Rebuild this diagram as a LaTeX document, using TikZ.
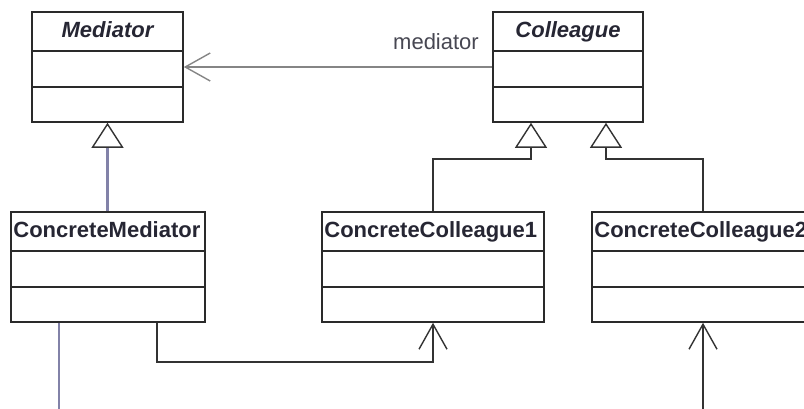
\documentclass[tikz,border=0pt]{standalone}
\usepackage{fontspec}
\setmainfont{Liberation Sans}
\usetikzlibrary{arrows.meta,calc}
\definecolor{boxc}{HTML}{2A2A2A}
\definecolor{txtc}{HTML}{262633}
\definecolor{assocc}{HTML}{858585}
\definecolor{bluec}{HTML}{8282A8}
\definecolor{darkc}{HTML}{333333}
\begin{document}
\begin{tikzpicture}[x=1pt,y=-1pt,
  classbox/.style={draw=boxc, line width=1.6pt, fill=white, minimum height=110pt, inner sep=0pt},
  divider/.style={draw=boxc, line width=1.6pt},
  abstitle/.style={font=\fontsize{22}{26}\selectfont\bfseries\itshape, text=txtc, inner sep=0pt, anchor=base},
  contitle/.style={font=\fontsize{22}{26}\selectfont\bfseries, text=txtc, inner sep=0pt, anchor=base west},
  rolelabel/.style={font=\fontsize{22}{26}\selectfont, text=txtc!85, inner sep=0pt, anchor=base east},
  gen/.style={draw=darkc, line width=1.6pt, -{Triangle[open, length=25pt, width=32pt, fill=white, color=darkc, line width=1.4pt]}},
  genblue/.style={gen, draw=bluec, line width=2.2pt},
  assoc/.style={draw=darkc, line width=1.6pt, -{Straight Barb[length=25pt, width=28pt, line width=1.4pt]}},
  assocgray/.style={assoc, draw=assocc, line width=2pt},
  plainblue/.style={draw=bluec, line width=2.4pt}
]
\useasboundingbox (0,0) rectangle (804,408);
\clip (0,0) rectangle (804,408);

% classes
\node[classbox, minimum width=151pt] (med) at (107.5,67) {};
\node[classbox, minimum width=150pt] (col) at (568,67) {};
\node[classbox, minimum width=194pt] (cmed) at (108,267) {};
\node[classbox, minimum width=222pt] (cc1) at (433,267) {};
\node[classbox, minimum width=222pt] (cc2) at (703,267) {};

% titles
\node[abstitle] (medt) at ($(med.north)+(0,26.5)$) {Mediator};
\node[abstitle] (colt) at ($(col.north)+(0,26.5)$) {Colleague};
\node[contitle] (cmedt) at ($(cmed.north west)+(3,26.5)$) {ConcreteMediator};
\node[contitle] (cc1t) at ($(cc1.north west)+(3,26.5)$) {ConcreteColleague1};
\node[contitle] (cc2t) at ($(cc2.north west)+(3,26.5)$) {ConcreteColleague2};

% compartments
\foreach \c in {med,col,cmed,cc1,cc2}{
  \draw[divider] ($(\c.north west)+(0,40)$) -- ($(\c.north east)+(0,40)$);
  \draw[divider] ($(\c.north west)+(0,75.5)$) -- ($(\c.north east)+(0,75.5)$);
}

% association Colleague -> Mediator
\draw[assocgray] (col.west) -- (med.east);
\node[rolelabel] (role) at (479,49) {mediator};

% generalizations
\draw[genblue] (cmed.north -| med.south) -- (med.south);
\draw[gen] (cc1.north) -- ++(0,-52) -| ([xshift=-37pt]col.south);
\draw[gen] (cc2.north) -- ++(0,-52) -| ([xshift=38pt]col.south);

% associations from ConcreteMediator
\draw[assoc] ([xshift=49pt]cmed.south) -- ++(0,39) -| (cc1.south);
\coordinate (e1) at (59,412);
\draw[plainblue] ([xshift=-49pt]cmed.south) -- (e1);
\coordinate (e2) at (703,412);
\draw[assoc] (e2) -- (cc2.south);
\end{tikzpicture}
\end{document}
